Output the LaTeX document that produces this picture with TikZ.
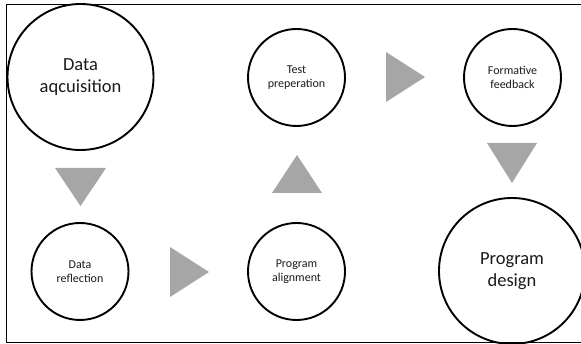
\documentclass[tikz,border=0pt]{standalone}
\usepackage{fontspec}
\setmainfont{Carlito}
\definecolor{tri}{HTML}{A6A6A6}
\definecolor{txt}{HTML}{1A1A1A}
\tikzset{
  stage/.style={circle, draw=black, line width=1.9pt, inner sep=0pt, align=center, text=txt},
  bigstage/.style={stage, minimum size=146pt, font=\fontsize{18.5}{22}\selectfont},
  smallstage/.style={stage, minimum size=97pt, font=\fontsize{12}{13.5}\selectfont},
  arrowtri/.style={fill=tri, draw=none},
  frameline/.style={line width=1pt, draw=black}
}
\begin{document}
\begin{tikzpicture}[x=1pt,y=-1pt]
\useasboundingbox (0,0) rectangle (581,344);
\clip (0,0) rectangle (581,344);
\draw[frameline] (581,5) -- (6,5) -- (6,342.5) -- (581,342.5);
\node[bigstage] (acq) at (80.5,77) {Data\\aqcuisition};
\node[smallstage] (refl) at (80,271.5) {Data\\reflection};
\node[smallstage] (align) at (296.5,271.5) {Program\\alignment};
\node[smallstage] (test) at (296.5,77.5) {Test\\preperation};
\node[smallstage] (form) at (512.5,77.5) {Formative\\feedback};
\node[bigstage] (design) at (512,271) {Program\\design};
% triangles
\fill[arrowtri] (55,168) -- (106,168) -- (80.5,206) -- cycle;
\fill[arrowtri] (170,247) -- (170,297) -- (209,272) -- cycle;
\fill[arrowtri] (272,193) -- (322,193) -- (297,155) -- cycle;
\fill[arrowtri] (386,52) -- (386,102) -- (425,77) -- cycle;
\fill[arrowtri] (487,143) -- (537,143) -- (512,183) -- cycle;
\end{tikzpicture}
\end{document}
